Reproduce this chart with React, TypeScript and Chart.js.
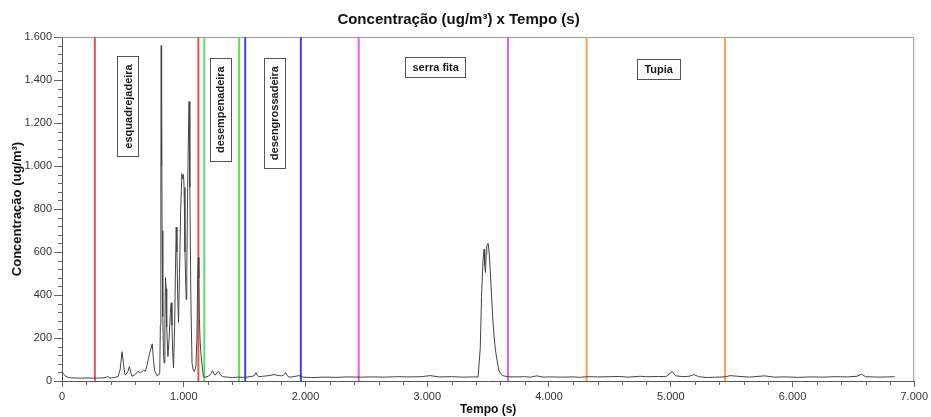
import React, { useEffect, useRef } from "react";
import { Chart, registerables } from "chart.js";

Chart.register(...registerables);

// Time (s) and concentration (ug/m³)
const times = [
  0, 12, 25, 45, 70, 110, 160, 210, 260, 310, 350, 376, 395, 430, 460, 478, 493, 505, 515, 521,
  540, 553, 565, 575, 600, 624, 645, 670, 685, 698, 710, 720, 732, 741, 750, 760, 780, 795, 803, 808,
  812, 815, 817, 819, 822, 828, 833, 838, 845, 850, 855, 860, 870, 880, 890, 897, 903, 910, 916, 925,
  932, 938, 944, 950, 957, 965, 975, 985, 992, 998, 1003, 1010, 1020, 1025, 1032, 1040, 1044, 1050, 1058, 1068,
  1078, 1088, 1100, 1108, 1115, 1120, 1124, 1128, 1135, 1142, 1150, 1161, 1180, 1200, 1225, 1237, 1250, 1260, 1275, 1287,
  1300, 1320, 1360, 1400, 1440, 1480, 1520, 1560, 1580, 1592, 1605, 1615, 1650, 1700, 1742, 1770, 1800, 1820, 1837, 1850,
  1865, 1900, 1946, 1980, 2050, 2150, 2250, 2350, 2450, 2550, 2650, 2750, 2850, 2950, 3023, 3100, 3200, 3300, 3380, 3418,
  3435, 3446, 3458, 3467, 3472, 3478, 3484, 3489, 3500, 3508, 3517, 3528, 3539, 3550, 3560, 3575, 3588, 3605, 3620, 3660,
  3720, 3800, 3850, 3900, 3950, 4000, 4100, 4200, 4250, 4310, 4400, 4500, 4580, 4650, 4750, 4800, 4900, 4960, 5013, 5040,
  5100, 5150, 5190, 5230, 5300, 5380, 5446, 5487, 5550, 5650, 5770, 5850, 5950, 6050, 6150, 6250, 6350, 6450, 6530, 6567,
  6600, 6700, 6780, 6839,
];
const concentration = [
  42, 34, 24, 18, 15, 14, 13, 14, 13, 14, 15, 20, 14, 16, 20, 55, 136, 82, 35, 28,
  42, 67, 38, 22, 30, 44, 38, 50, 46, 72, 105, 130, 152, 173, 108, 50, 25, 28, 40, 260,
  950, 1560, 1000, 1370, 700, 300, 145, 84, 250, 482, 430, 250, 114, 200, 320, 364, 260, 120, 61, 250,
  520, 716, 600, 400, 271, 500, 800, 964, 940, 960, 900, 600, 379, 500, 900, 1200, 1300, 900, 400, 84,
  50, 44, 70, 200, 500, 575, 480, 300, 180, 120, 80, 20, 18, 22, 35, 48, 30, 28, 40, 44,
  30, 20, 18, 16, 18, 17, 18, 22, 25, 39, 25, 20, 22, 25, 30, 26, 24, 28, 39, 25,
  18, 20, 25, 18, 16, 18, 17, 19, 18, 19, 18, 20, 19, 20, 25, 19, 20, 18, 19, 19,
  150, 394, 560, 613, 540, 505, 590, 628, 640, 600, 519, 400, 285, 200, 145, 90, 51, 32, 25, 20,
  19, 20, 18, 24, 18, 19, 18, 19, 17, 20, 19, 20, 21, 18, 22, 20, 21, 20, 44, 24,
  20, 22, 30, 20, 16, 18, 19, 25, 22, 18, 24, 18, 19, 17, 19, 18, 20, 19, 22, 32,
  20, 18, 19, 20,
];

// Machine phase boundaries (s)
const markerTimes = [270, 1120, 1169, 1455, 1505, 1962, 2437, 3663, 4309, 5446];
const markerColors = [
  "#e85454", "#e85454", "#62dc62", "#62dc62", "#4545e6", "#4545e6",
  "#e75ee7", "#e75ee7", "#f3a24e", "#f3a24e",
];

// Phase labels: text, anchor time, anchor concentration, vertical?
const phaseLabels = ["esquadrejadeira", "desempenadeira", "desengrossadeira", "serra fita", "Tupia"];
const phaseLabelTimes = [538, 1299, 1743, 3069, 4901];
const phaseLabelValues = [1277, 1262, 1246, 1460, 1451];
const phaseLabelVertical = [true, true, true, false, false];

const yMax = 1600;
const xMax = 7000;

const fmt = (v: number) => String(v).replace(/\B(?=(\d{3})+(?!\d))/g, ".");

const FONT = "'Liberation Sans', Arial, sans-serif";

const decorPlugin = {
  id: "decor",
  beforeDatasetsDraw(chart: any) {
    const { ctx, chartArea: a } = chart;
    ctx.save();
    ctx.strokeStyle = "#9a9a9a";
    ctx.lineWidth = 1;
    ctx.beginPath();
    ctx.moveTo(a.left, a.top + 0.5);
    ctx.lineTo(a.right - 0.5, a.top + 0.5);
    ctx.lineTo(a.right - 0.5, a.bottom);
    ctx.stroke();
    ctx.restore();
  },
  afterDraw(chart: any) {
    const { ctx, chartArea: a, scales } = chart;
    const xs = scales.x;
    const ys = scales.y;
    ctx.save();
    ctx.strokeStyle = "#666";
    ctx.lineWidth = 1;
    ctx.beginPath();
    for (let t = 0; t <= xMax; t += 200) {
      if (t % 1000 === 0) continue;
      const px = Math.round(xs.getPixelForValue(t)) + 0.5;
      ctx.moveTo(px, a.bottom);
      ctx.lineTo(px, a.bottom + 4);
    }
    for (let v = 0; v <= yMax; v += 40) {
      if (v % 200 === 0) continue;
      const py = Math.round(ys.getPixelForValue(v)) + 0.5;
      ctx.moveTo(a.left - 4, py);
      ctx.lineTo(a.left, py);
    }
    ctx.stroke();

    // phase label boxes
    ctx.font = `bold 11px ${FONT}`;
    ctx.textAlign = "center";
    ctx.textBaseline = "middle";
    phaseLabels.forEach((txt, i) => {
      const cx = xs.getPixelForValue(phaseLabelTimes[i]);
      const cy = ys.getPixelForValue(phaseLabelValues[i]);
      const w = ctx.measureText(txt).width;
      const vertical = phaseLabelVertical[i];
      const bw = vertical ? 21 : w + 14;
      const bh = vertical ? w + 16 : 20;
      const x0 = Math.round(cx - bw / 2) + 0.5;
      const y0 = Math.round(cy - bh / 2) + 0.5;
      ctx.fillStyle = "#fff";
      ctx.fillRect(x0, y0, bw, bh);
      ctx.strokeStyle = "#555";
      ctx.strokeRect(x0, y0, Math.round(bw), Math.round(bh));
      ctx.fillStyle = "#1a1a1a";
      ctx.save();
      ctx.translate(cx, cy);
      if (vertical) ctx.rotate(-Math.PI / 2);
      ctx.fillText(txt, 0, 1);
      ctx.restore();
    });
    ctx.restore();
  },
};

export default function App() {
  const ref = useRef<HTMLCanvasElement>(null);
  useEffect(() => {
    document.body.style.margin = "0";
    const canvas = ref.current!;
    const series = times.map((t, i) => ({ x: t, y: concentration[i] }));
    const markerSets = markerTimes.map((t, i) => ({
      data: [
        { x: t, y: 0 },
        { x: t, y: yMax },
      ],
      borderColor: markerColors[i],
      borderWidth: 2,
      pointRadius: 0,
      order: 2,
    }));
    const chart = new Chart(canvas, {
      type: "line",
      data: {
        datasets: [
          {
            data: series,
            borderColor: "#444",
            borderWidth: 1,
            pointRadius: 0,
            tension: 0,
            order: 0,
          },
          ...markerSets,
        ],
      },
      options: {
        responsive: false,
        animation: false,
        layout: { padding: { left: 0, right: 14, top: 0, bottom: 0 } },
        plugins: {
          legend: { display: false },
          tooltip: { enabled: false },
          title: {
            display: true,
            text: "Concentração (ug/m³) x Tempo (s)",
            color: "#111",
            font: { family: FONT, size: 15, weight: "bold" },
            padding: { top: 11, bottom: 8 },
          },
        },
        scales: {
          x: {
            type: "linear",
            min: 0,
            max: xMax,
            afterFit: (s: any) => {
              s.height = 36;
            },
            ticks: {
              stepSize: 1000,
              color: "#333",
              font: { family: FONT, size: 11 },
              padding: 3,
              maxRotation: 0,
              callback: (v: any) => fmt(Number(v)),
            },
            grid: { drawOnChartArea: false, drawTicks: true, tickLength: 6, color: "#666" },
            border: { display: true, color: "#555" },
            title: {
              display: true,
              text: "Tempo (s)",
              color: "#111",
              font: { family: FONT, size: 12, weight: "bold" },
              padding: { top: 0, bottom: 0 },
            },
          },
          y: {
            type: "linear",
            min: 0,
            max: yMax,
            afterFit: (s: any) => {
              s.width = 62;
            },
            ticks: {
              stepSize: 200,
              color: "#333",
              font: { family: FONT, size: 11 },
              padding: 2,
              callback: (v: any) => fmt(Number(v)),
            },
            grid: { drawOnChartArea: false, drawTicks: true, tickLength: 8, color: "#666" },
            border: { display: true, color: "#555" },
            title: {
              display: true,
              text: "Concentração (ug/m³)",
              color: "#111",
              font: { family: FONT, size: 13, weight: "bold" },
              padding: { top: 10, bottom: 0 },
            },
          },
        },
      },
      plugins: [decorPlugin],
    });
    return () => chart.destroy();
  }, []);
  return (
    <div style={{ width: 931, height: 417 }}>
      <canvas ref={ref} width={931} height={417} />
    </div>
  );
}
